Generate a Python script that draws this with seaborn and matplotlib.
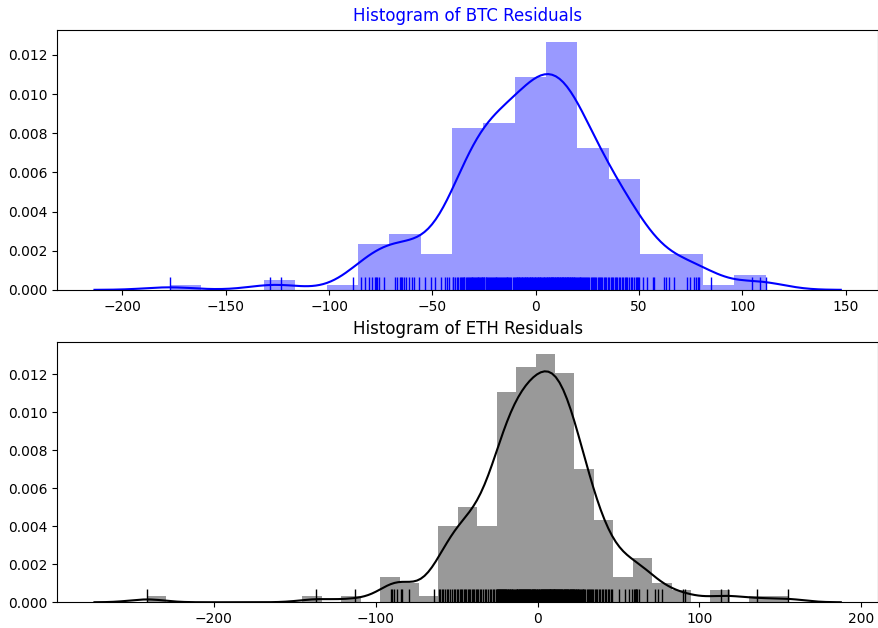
import matplotlib
matplotlib.use("Agg")
import matplotlib.pyplot as plt
import seaborn as sns
import numpy as np

btc_residuals = [
    -177.1,
    -128.7, -123.4,
    -88.6,
    -84.6, -82.6, -80.5, -79.2, -78.0, -77.4, -76.6, -75.8, -73.2,
    -68.0, -67.1, -65.8, -65.2, -64.5, -63.9, -62.9, -61.5, -60.1, -59.0, -56.6,
    -53.6, -50.5, -48.7, -46.0, -44.0, -43.0, -41.9,
    -40.2, -39.8, -38.9, -38.2, -37.5, -36.8, -36.3, -35.9, -35.4, -34.9,
    -34.6, -33.8, -33.3, -32.6, -32.1, -31.7, -31.2, -30.8, -30.6, -30.3,
    -29.9, -29.5, -29.0, -28.6, -28.1, -27.8, -27.3, -27.0, -26.6, -26.2,
    -25.9, -25.6,
    -25.2, -24.8, -24.3, -23.9, -23.4, -23.0, -22.7, -22.1, -21.6, -21.2,
    -20.8, -20.3, -19.9, -19.4, -19.0, -18.6, -18.1, -17.7, -17.2, -16.8,
    -16.3, -15.9, -15.5, -15.0, -14.6, -14.1, -13.7, -13.2, -12.8, -12.3,
    -11.8, -11.2, -10.6,
    -10.0, -9.7, -9.3, -8.9, -8.6, -8.2, -7.9, -7.5, -7.2, -6.8,
    -6.5, -6.1, -5.8, -5.4, -5.1, -4.7, -4.4, -4.0, -3.7, -3.3,
    -3.0, -2.6, -2.3, -1.9, -1.6, -1.2, -0.9, -0.5, -0.2, 0.2,
    0.5, 0.9, 1.2, 1.6, 1.9, 2.3, 2.7, 3.0, 3.4, 3.8,
    4.2, 4.6,
    5.1, 5.4, 5.6, 5.9, 6.3, 6.5, 6.8, 7.2, 7.4, 7.7,
    8.1, 8.3, 8.6, 8.9, 9.3, 9.5, 9.8, 10.2, 10.4, 10.7,
    11.0, 11.3, 11.6, 11.9, 12.2, 12.5, 12.8, 13.1, 13.4, 13.7,
    14.0, 14.3, 14.6, 14.9, 15.2, 15.5, 15.8, 16.1, 16.4, 16.7,
    17.0, 17.4, 17.7, 18.0, 18.4, 18.7, 19.1, 19.4, 19.8,
    20.3, 20.7, 21.2, 21.6, 22.1, 22.5, 23.0, 23.5, 24.0, 24.4,
    25.0, 25.5, 26.0, 26.6, 27.1, 27.6, 28.2, 28.7, 29.3, 29.9,
    30.5, 31.1, 31.7, 32.3, 32.9, 33.5, 34.2, 34.8,
    35.6, 36.3, 36.9, 37.6, 38.2, 38.9, 39.5, 40.2, 40.9, 41.6,
    42.3, 43.0, 43.7, 44.4, 45.1, 46.0, 46.8, 47.6, 48.3, 48.9,
    49.5, 50.1,
    51.7, 53.8, 56.6, 57.0, 61.9, 63.1, 64.7,
    66.8, 73.2, 74.5, 76.6, 77.7, 78.5, 79.0,
    85.0,
    104.7, 108.6, 111.2,
]

eth_residuals = [
    -241.3,
    -136.6,
    -112.8,
    -90.5, -89.8, -88.4, -86.8,
    -84.4, -84.0, -79.7,
    -63.8,
    -61.0, -60.2, -59.1, -58.3, -57.2, -56.0, -55.1, -54.2, -53.0, -51.9, -50.8, -49.8,
    -48.9, -48.1, -47.3, -46.5, -45.6, -44.8, -44.0, -43.1, -42.3, -41.5, -40.6, -39.8,
    -39.0, -38.2, -37.5,
    -36.8, -35.7, -34.8, -33.7, -32.6, -31.7, -30.6, -29.5, -28.6, -27.5, -26.6, -25.6,
    -25.1, -24.8, -24.5, -24.2, -23.9, -23.6, -23.3, -23.0, -22.7, -22.4,
    -22.1, -21.8, -21.5, -21.2, -20.9, -20.6, -20.3, -20.0, -19.7, -19.3,
    -18.9, -18.5, -18.1, -17.7, -17.3, -16.9, -16.5, -16.0, -15.5, -15.0,
    -14.5, -14.0, -13.5,
    -13.0, -12.7, -12.4, -12.0, -11.7, -11.4, -11.1, -10.8, -10.4, -10.1,
    -9.8, -9.5, -9.2, -8.8, -8.5, -8.2, -7.9, -7.6, -7.2, -6.9,
    -6.6, -6.3, -6.0, -5.6, -5.3, -5.0, -4.7, -4.4, -4.0, -3.7,
    -3.4, -3.1, -2.8, -2.4, -2.1, -1.8, -1.4,
    -0.9, -0.5, -0.1, 0.3, 0.7, 1.1, 1.5, 1.9, 2.3, 2.6,
    2.9, 3.2, 3.5, 3.8, 4.1, 4.4, 4.7, 5.0, 5.3, 5.6,
    5.9, 6.2, 6.5, 6.8, 7.1, 7.4, 7.7, 8.0, 8.3, 8.6,
    8.9, 9.2, 9.4, 9.7, 9.9, 10.1, 10.3, 10.5, 10.7,
    11.1, 11.4, 11.8, 12.1, 12.4, 12.8, 13.1, 13.4, 13.8, 14.1,
    14.4, 14.8, 15.1, 15.4, 15.8, 16.1, 16.4, 16.8, 17.1, 17.4,
    17.8, 18.1, 18.4, 18.8, 19.1, 19.4, 19.8, 20.1, 20.4, 20.8,
    21.1, 21.4, 21.8, 22.1, 22.4, 22.7,
    23.1, 23.5, 23.9, 24.3, 24.8, 25.2, 25.7, 26.2, 26.7, 27.2,
    27.8, 28.4, 29.0, 29.6, 30.3, 31.0, 31.7, 32.4, 33.1, 33.8,
    34.5,
    35.3, 36.1, 37.0, 37.9, 38.8, 39.7, 40.6, 41.5, 42.4, 43.3,
    44.3, 45.2, 46.2,
    50.2, 53.9, 56.5, 58.5,
    59.5, 60.2, 60.6, 61.0, 61.6, 63.0, 67.9,
    72.8, 74.4, 77.0,
    90.0, 91.3,
    113.5, 117.5,
    135.6,
    154.9,
]

btc_bins = 19
eth_bins = 33
titles = ["Histogram of BTC Residuals", "Histogram of ETH Residuals"]
colors = ["blue", "black"]


def robust_scott_factor(values):
    """Scott's rule with the robust sigma min(std, IQR/1.349), as a factor of the std."""
    v = np.asarray(values, dtype=float)
    sd = v.std(ddof=1)
    q75, q25 = np.percentile(v, [75, 25])
    sigma = min(sd, (q75 - q25) / 1.349)
    bw = 1.059 * sigma * len(v) ** (-0.2)
    return bw / sd


# ---------------- figure ----------------
fig, axes = plt.subplots(2, 1, figsize=(8.79, 6.28), dpi=100)
fig.subplots_adjust(left=0.065, right=0.999, bottom=0.041, top=0.953, hspace=0.2)

for ax, data, nb, title, col in zip(axes, [btc_residuals, eth_residuals],
                                     [btc_bins, eth_bins], titles, colors):
    sns.histplot(x=data, bins=nb, stat="density", color=col, alpha=0.4,
                 linewidth=0, edgecolor=None, ax=ax)
    tallest = max(p.get_height() for p in ax.patches)
    sns.kdeplot(x=data, color=col, linewidth=1.5,
                bw_method=robust_scott_factor(data), cut=3, ax=ax)
    sns.rugplot(x=data, height=0.05, color=col, linewidth=1, ax=ax)
    ax.set_ylim(0, tallest * 1.05)
    ax.set_title(title, color=col, fontsize=12)
    ax.set_xlabel("")
    ax.set_ylabel("")
    ax.yaxis.set_major_formatter(matplotlib.ticker.FormatStrFormatter("%.3f"))

fig.savefig("out.png", dpi=100)
